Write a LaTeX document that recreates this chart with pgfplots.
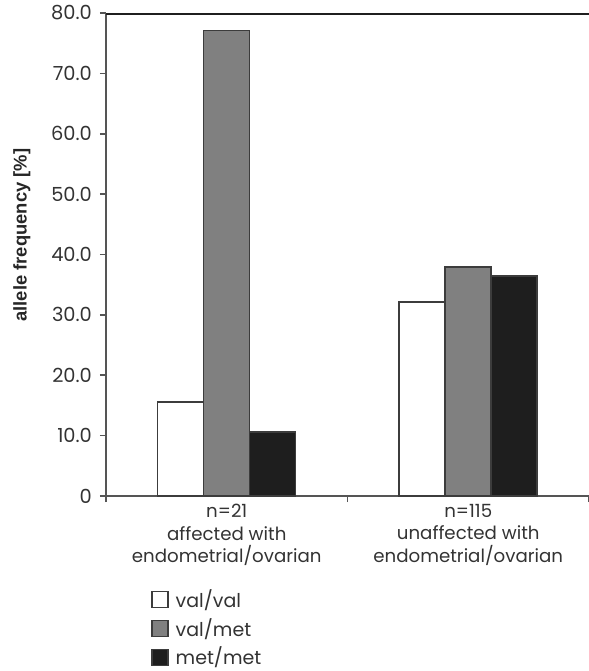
\documentclass[border=0pt]{standalone}
\usepackage{fontspec}
\setmainfont{Poppins}
\newfontfamily\labfont{Liberation Sans}
\usepackage{pgfplots}
\pgfplotsset{compat=1.18}
\definecolor{axgray}{HTML}{555555}
\definecolor{bardraw}{HTML}{3C3C3C}
\definecolor{midgray}{HTML}{808080}
\definecolor{nearblack}{HTML}{1E1E1E}
\definecolor{txt}{HTML}{333333}
\begin{document}
\begin{tikzpicture}
\path[use as bounding box] (-53pt,-87.5pt) rectangle (241.5pt,248pt);
\begin{axis}[
  scale only axis, width=241.5pt, height=241.5pt,
  xmin=-0.5, xmax=1.5, ymin=0, ymax=80,
  axis lines=left,
  axis line style={-, draw=axgray, line width=1pt},
  ytick={0,10,...,80},
  yticklabels={0,10.0,20.0,30.0,40.0,50.0,60.0,70.0,80.0},
  tick align=outside, major tick length=3pt,
  tick style={draw=axgray, line width=0.8pt},
  xtick={-0.5,0.5,1.5}, xticklabels={,,},
  extra x ticks={0,1},
  extra x tick labels={{n=21\\affected with\\endometrial/ovarian},{n=115\\unaffected with\\endometrial/ovarian}},
  extra x tick style={major tick length=0pt},
  tick label style={font=\fontsize{9.7}{11}\selectfont, text=txt},
  xticklabel style={align=center, yshift=-0.5pt, font=\fontsize{9.1}{11.3}\selectfont},
  yticklabel style={xshift=-0.5pt},
  ylabel={allele frequency [\%]},
  ylabel style={font=\labfont\bfseries\fontsize{9.2}{11}\selectfont, text=black!85, at={(axis description cs:-0.174,0.54)}, anchor=center},
  ybar=0pt, bar width=23pt,
  legend style={at={(axis description cs:0.093,-0.184)}, anchor=north west, draw=none, fill=none, inner sep=0pt,
    font=\fontsize{9.5}{11}\selectfont, text=txt, row sep=0pt, legend cell align=left,
    nodes={inner ysep=2pt},
    /tikz/every odd column/.style={column sep=1.5pt}},
  legend image code/.code={\draw[#1, line width=0.7pt] (0pt,-4pt) rectangle (8pt,4pt);},
]
\addplot[fill=white, draw=bardraw, line width=0.75pt] coordinates {(0,15.6) (1,32.1)};
\addlegendentry{val/val}
\addplot[fill=midgray, draw=bardraw, line width=0.75pt] coordinates {(0,77.1) (1,37.9)};
\addlegendentry{val/met}
\addplot[fill=nearblack, draw=bardraw, line width=0.75pt] coordinates {(0,10.6) (1,36.4)};
\addlegendentry{met/met}
\draw[line width=1.5pt, color=black!88] (rel axis cs:0,1) -- (rel axis cs:1,1);
\end{axis}
\end{tikzpicture}
\end{document}
